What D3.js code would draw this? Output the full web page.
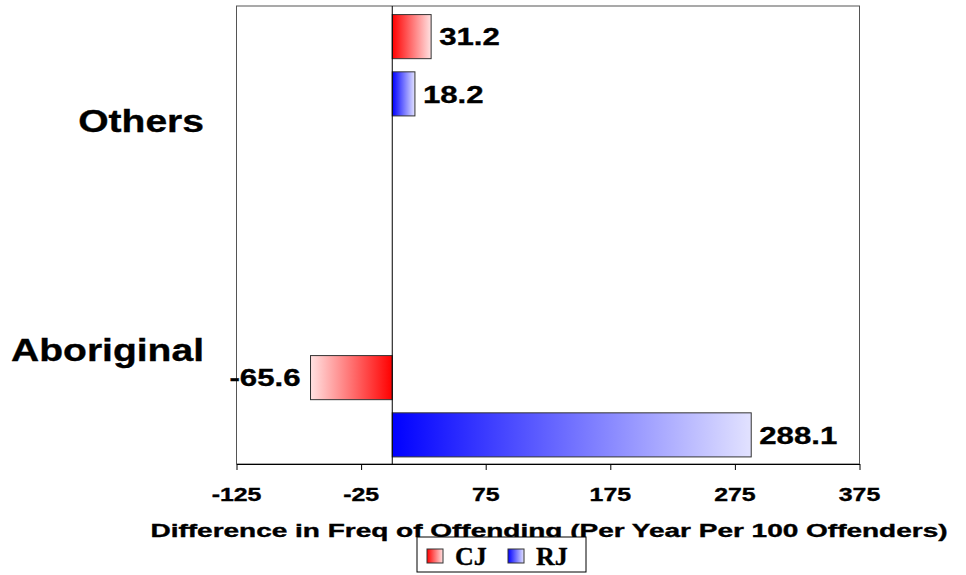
<!DOCTYPE html>
<html>
<head>
<meta charset="utf-8">
<script src="https://cdn.jsdelivr.net/npm/d3@7"></script>
<style>
  body { margin: 0; background: #fff; }
  text { font-family: "Liberation Sans", Arial, sans-serif; font-weight: bold; fill: #000; stroke: #000; stroke-width: 0.35px; }
  .legend text { font-family: "Liberation Serif", "Times New Roman", serif; }
</style>
</head>
<body>
<div id="chart"></div>
<script>
// chart data
const categories = ['Others', 'Aboriginal'];
const seriesNames = ['CJ', 'RJ'];
const cjValues = [31.2, -65.6];
const rjValues = [18.2, 288.1];
const tickValues = [-125, -25, 75, 175, 275, 375];
const axisTitle = 'Difference in Freq of Offending (Per Year Per 100 Offenders)';

const width = 966;
const height = 575;
const plot = { left: 236.5, right: 859.5, top: 6, bottom: 464 };

// gradient colours: strong at zero, light at the far end
const strong = { CJ: '#ff0000', RJ: '#0000ff' };
const light = { CJ: '#ffe2e2', RJ: '#e2e2ff' };

const svg = d3.select('#chart')
  .append('svg')
  .attr('width', width)
  .attr('height', height);

const defs = svg.append('defs');
for (const s of seriesNames) {
  for (const dir of ['pos', 'neg']) {
    const g = defs.append('linearGradient')
      .attr('id', `grad-${s}-${dir}`)
      .attr('x1', dir === 'pos' ? 0 : 1)
      .attr('x2', dir === 'pos' ? 1 : 0)
      .attr('y1', 0).attr('y2', 0);
    g.append('stop').attr('offset', 0).attr('stop-color', strong[s]);
    g.append('stop').attr('offset', 1).attr('stop-color', light[s]);
  }
}

const x = d3.scaleLinear()
  .domain([tickValues[0], tickValues[tickValues.length - 1]])
  .range([plot.left, plot.right]);

const y0 = d3.scaleBand()
  .domain(categories)
  .range([plot.top, plot.bottom]);

// each category band holds four slots; Others uses the upper two, Aboriginal the lower two
const y1 = d3.scaleBand()
  .domain([0, 1, 2, 3])
  .range([0, y0.bandwidth()])
  .paddingInner(0.23)
  .paddingOuter(0.115);
const slotStart = { Others: 0, Aboriginal: 2 };
const slotShift = { Others: 2, Aboriginal: -0.5 };

// horizontally stretched text helper
function stretched(sel, sx) {
  sel.each(function () {
    const t = d3.select(this);
    const px = +t.attr('data-x');
    const py = +t.attr('data-y');
    t.attr('transform', `translate(${px},${py}) scale(${sx},1)`);
  });
}

// plot area frame
svg.append('rect')
  .attr('x', plot.left).attr('y', plot.top)
  .attr('width', plot.right - plot.left)
  .attr('height', plot.bottom - plot.top)
  .attr('fill', '#fff')
  .attr('stroke', '#555')
  .attr('stroke-width', 1);

// bars
const rows = [];
categories.forEach((c, i) => {
  rows.push({ cat: c, series: 'CJ', value: cjValues[i], slot: slotStart[c] });
  rows.push({ cat: c, series: 'RJ', value: rjValues[i], slot: slotStart[c] + 1 });
});
const barY = (d) => y0(d.cat) + y1(d.slot) + slotShift[d.cat];

svg.append('g').selectAll('rect')
  .data(rows)
  .join('rect')
  .attr('x', (d) => x(Math.min(0, d.value)))
  .attr('y', barY)
  .attr('width', (d) => Math.abs(x(d.value) - x(0)))
  .attr('height', y1.bandwidth())
  .attr('fill', (d) => `url(#grad-${d.series}-${d.value >= 0 ? 'pos' : 'neg'})`)
  .attr('stroke', '#333')
  .attr('stroke-width', 1);

// data labels
svg.append('g').selectAll('text')
  .data(rows)
  .join('text')
  .attr('data-x', (d) => d.value >= 0 ? x(d.value) + 8 : x(d.value) - 10)
  .attr('data-y', (d) => barY(d) + y1.bandwidth() / 2)
  .attr('dy', '0.36em')
  .attr('text-anchor', (d) => d.value >= 0 ? 'start' : 'end')
  .style('font-size', '24px')
  .text((d) => d.value.toFixed(1))
  .call(stretched, 1.3);

// zero line (category axis)
svg.append('line')
  .attr('x1', x(0)).attr('x2', x(0))
  .attr('y1', plot.top).attr('y2', plot.bottom)
  .attr('stroke', '#000')
  .attr('stroke-width', 1);

// category labels
svg.append('g').selectAll('text')
  .data(categories)
  .join('text')
  .attr('data-x', 204)
  .attr('data-y', (d) => y0(d) + y0.bandwidth() / 2)
  .attr('dy', '0.36em')
  .attr('text-anchor', 'end')
  .style('font-size', '32px')
  .text((d) => d)
  .call(stretched, 1.22);

// x axis
const xAxis = svg.append('g')
  .attr('transform', `translate(0,${plot.bottom})`)
  .call(d3.axisBottom(x).tickValues(tickValues).tickSize(6).tickSizeOuter(0).tickFormat(''));
xAxis.select('.domain').attr('stroke', '#000');
xAxis.selectAll('.tick line').attr('stroke', '#000');

svg.append('g').selectAll('text')
  .data(tickValues)
  .join('text')
  .attr('data-x', (d) => x(d))
  .attr('data-y', 501)
  .attr('text-anchor', 'middle')
  .style('font-size', '18px')
  .text((d) => d)
  .call(stretched, 1.38);

svg.append('text')
  .attr('data-x', (plot.left + plot.right) / 2 + 1)
  .attr('data-y', 537)
  .attr('text-anchor', 'middle')
  .style('font-size', '17.5px')
  .text(axisTitle)
  .call(stretched, 1.6);

// legend
const legend = svg.append('g').attr('class', 'legend');
legend.append('rect')
  .attr('x', 417).attr('y', 537)
  .attr('width', 169).attr('height', 35)
  .attr('fill', '#fff')
  .attr('stroke', '#000')
  .attr('stroke-width', 1);

const legendX = { CJ: 427, RJ: 508 };
seriesNames.forEach((s) => {
  legend.append('rect')
    .attr('x', legendX[s]).attr('y', 549)
    .attr('width', 16).attr('height', 14)
    .attr('fill', `url(#grad-${s}-pos)`)
    .attr('stroke', '#333')
    .attr('stroke-width', 1);
  legend.append('text')
    .attr('x', legendX[s] + 28)
    .attr('y', 564.5)
    .style('font-size', '26px')
    .text(s);
});
</script>
</body>
</html>
